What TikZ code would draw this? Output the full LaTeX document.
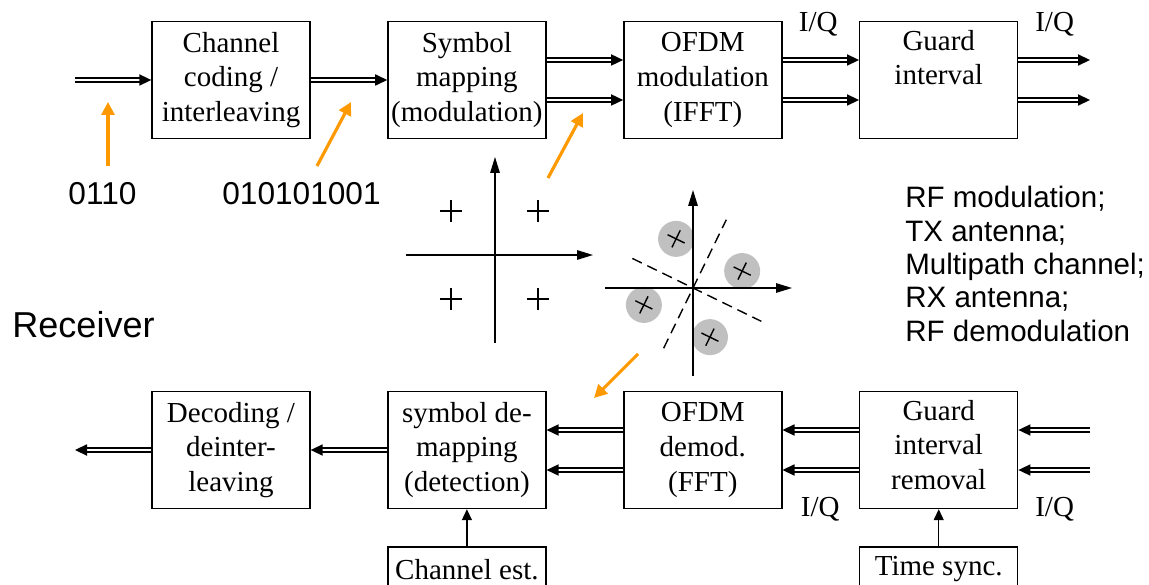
\documentclass[tikz,border=0pt]{standalone}
\usepackage{fontspec}
\setmainfont{Liberation Serif}
\setsansfont{Liberation Sans}
\usepackage{xcolor}
\definecolor{ptr}{HTML}{FF9900}
\definecolor{blob}{HTML}{C0C0C0}
\usetikzlibrary{arrows.meta,positioning,calc,decorations.markings}
\tikzset{
  >={Triangle[length=2.2mm,width=2mm]},
  blk/.style={draw,line width=0.8pt,minimum width=3.16cm,minimum height=2.34cm,inner sep=1pt,align=center,font=\fontsize{16.5}{19.8}\selectfont},
  dbl/.style={double,double distance=1.4pt,line width=0.85pt,shorten >=1.8mm,
    postaction={decorate,decoration={markings,mark=at position 1 with
      {\fill (0,0) -- (-2.4mm,1.15mm) -- (-2.4mm,-1.15mm) -- cycle;}}}},
  sarr/.style={->,line width=0.75pt},
  ptrarr/.style={-{Triangle[length=2.6mm,width=2.6mm]},draw=ptr,fill=ptr,line width=1.8pt},
  ax/.style={-{Triangle[length=3.2mm,width=1.9mm]},line width=0.85pt},
  tick/.style={line width=0.8pt},
  dsh/.style={line width=0.8pt,dash pattern=on 6pt off 3.5pt},
  iq/.style={font=\fontsize{16.5}{19.8}\selectfont,inner sep=0pt},
  sf/.style={font=\sffamily\fontsize{18}{19}\selectfont,inner sep=0pt,align=left},
}
\begin{document}
\begin{tikzpicture}[node distance=1.53cm]
\useasboundingbox (0,0) rectangle (22.98,-11.70);
% transmitter chain
\node[blk] (cod) at (4.62,-1.60) {Channel\\coding /\\interleaving};
\node[blk,right=of cod] (map) {Symbol\\mapping\\(modulation)};
\node[blk,right=of map] (ifft) {OFDM\\modulation\\(IFFT)};
\node[blk,right=of ifft] (gi) {Guard\\interval\\\strut};
\node[iq,right=0.32cm of ifft.north east,yshift=-0.06cm] (iqa) {I/Q};
\node[iq,right=0.33cm of gi.north east,yshift=-0.06cm] (iqb) {I/Q};
\coordinate (tin) at (1.50,-1.60);
\coordinate (tout) at (21.80,-1.60);
\draw[dbl] (tin) -- (cod.west);
\draw[dbl] (cod.east) -- (map.west);
\foreach \dy in {0.40,-0.40} {
  \draw[dbl] ([yshift=\dy cm]map.east) -- ([yshift=\dy cm]ifft.west);
  \draw[dbl] ([yshift=\dy cm]ifft.east) -- ([yshift=\dy cm]gi.west);
  \draw[dbl] ([yshift=\dy cm]gi.east) -- ([yshift=\dy cm]tout);
}
% bit strings and pointers
\node[sf] (bits) at (2.05,-3.88) {0110};
\node[sf] (coded) at (6.03,-3.88) {010101001};
\coordinate (p1s) at (2.16,-3.32); \coordinate (p1e) at (2.16,-2.04);
\coordinate (p2s) at (6.34,-3.32); \coordinate (p2e) at (7.02,-2.04);
\coordinate (p3s) at (10.96,-3.56); \coordinate (p3e) at (11.66,-2.26);
\coordinate (p4s) at (12.76,-7.08); \coordinate (p4e) at (11.88,-7.96);
\draw[ptrarr] (p1s) -- (p1e);
\draw[ptrarr] (p2s) -- (p2e);
\draw[ptrarr] (p3s) -- (p3e);
\draw[ptrarr] (p4s) -- (p4e);
% ideal constellation
\begin{scope}[shift={(9.90,-5.10)}]
\draw[ax] (-1.78,0) -- (1.96,0);
\draw[ax] (0,-1.76) -- (0,1.96);
\foreach \x/\y in {-0.88/0.88,0.86/0.88,-0.88/-0.88,0.86/-0.88}
  \draw[tick] (\x-0.22,\y) -- (\x+0.22,\y) (\x,\y-0.22) -- (\x,\y+0.22);
\end{scope}
% received constellation
\begin{scope}[shift={(13.86,-5.76)}]
\begin{scope}[rotate=-26]
\foreach \x/\y in {1/1,-1/1,-1/-1,1/-1} {
  \fill[blob] (0.735*\x,0.735*\y) circle (0.36);
  \draw[tick] (0.735*\x-0.19,0.735*\y) -- (0.735*\x+0.19,0.735*\y)
    (0.735*\x,0.735*\y-0.19) -- (0.735*\x,0.735*\y+0.19);
}
\draw[dsh] (-1.35,0) -- (1.52,0);
\draw[dsh] (0,-1.34) -- (0,1.52);
\end{scope}
\draw[ax] (-1.76,0) -- (1.98,0);
\draw[ax] (0,-1.76) -- (0,1.96);
\end{scope}
\node[sf,anchor=west,font=\sffamily\fontsize{16.8}{19}\selectfont] (rf) at (18.10,-5.28)
  {RF modulation;\\TX antenna;\\Multipath channel;\\RX antenna;\\RF demodulation};
\node[sf,font=\sffamily\fontsize{20.5}{24}\selectfont] (rx) at (1.67,-6.50) {Receiver};
% receiver chain
\node[blk] (dec) at (4.62,-9.00) {Decoding /\\deinter-\\leaving};
\node[blk,right=of dec] (dmap) {symbol de-\\mapping\\(detection)};
\node[blk,right=of dmap] (fft) {OFDM\\demod.\\(FFT)};
\node[blk,right=of fft] (gir) {Guard\\interval\\removal\strut};
\node[blk,minimum height=0.9cm,below=0.74cm of dmap] (chest) {Channel est.};
\node[blk,minimum height=0.9cm,below=0.74cm of gir] (tsync) {Time sync.};
\node[iq,right=0.36cm of fft.south east] (iqc) {I/Q};
\node[iq,right=0.33cm of gir.south east] (iqd) {I/Q};
\coordinate (rin) at (21.80,-9.00);
\coordinate (rout) at (1.50,-9.00);
\foreach \dy in {0.40,-0.40} {
  \draw[dbl] ([yshift=\dy cm]rin) -- ([yshift=\dy cm]gir.east);
  \draw[dbl] ([yshift=\dy cm]gir.west) -- ([yshift=\dy cm]fft.east);
  \draw[dbl] ([yshift=\dy cm]fft.west) -- ([yshift=\dy cm]dmap.east);
}
\draw[dbl] (dmap.west) -- (dec.east);
\draw[dbl] (dec.west) -- (rout);
\draw[sarr] (chest) -- (dmap);
\draw[sarr] (tsync) -- (gir);
\end{tikzpicture}
\end{document}
